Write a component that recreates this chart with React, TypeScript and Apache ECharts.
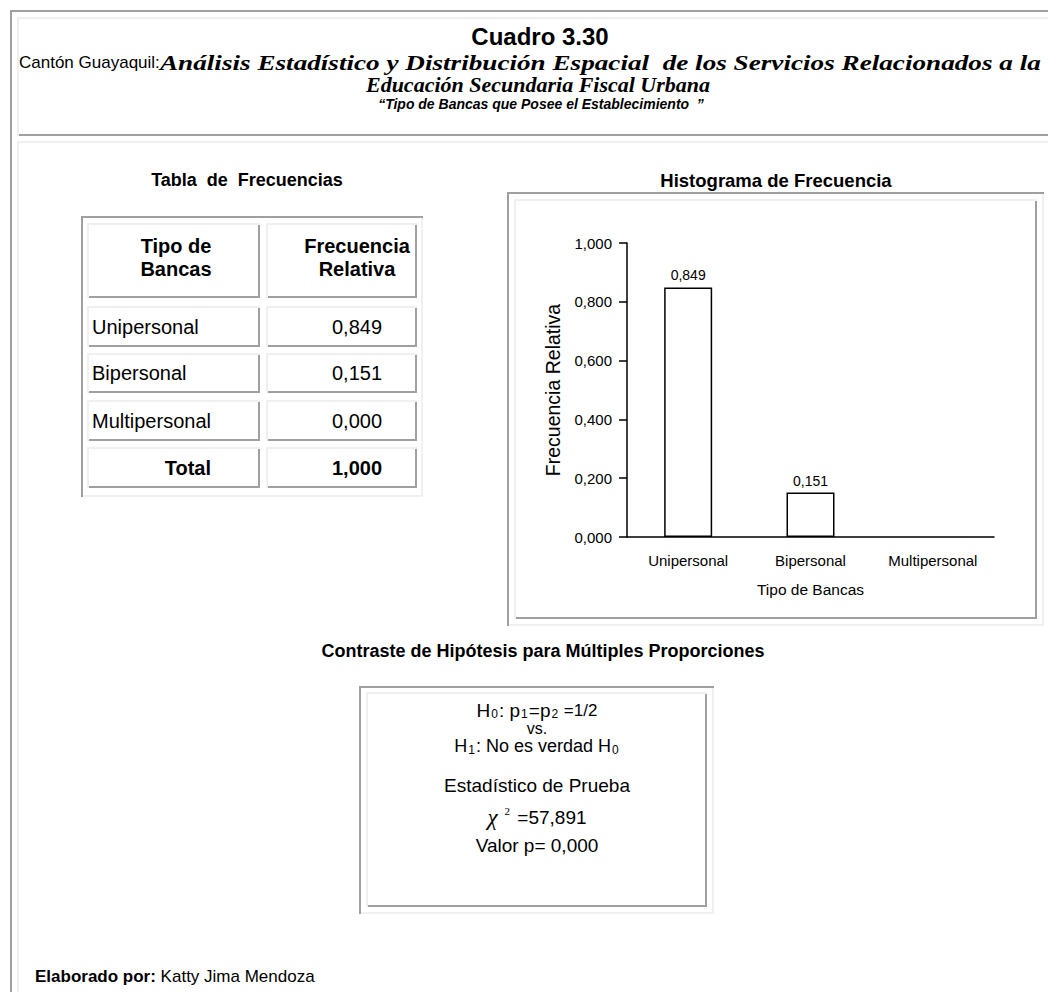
import React, { useEffect, useRef } from 'react';
import * as echarts from 'echarts';

// ---- Data ----
const categories = ['Unipersonal', 'Bipersonal', 'Multipersonal'];
const relativeFrequency = [0.849, 0.151, 0.0];
const totalValue = 1.0;
const yMin = 0;
const yMax = 1;
const yInterval = 0.2;

const titleText = 'Cuadro 3.30';
const subtitlePlain = 'Cantón Guayaquil:';
const subtitleItalic = 'Análisis Estadístico y Distribución Espacial  de los Servicios Relacionados a la';
const subtitleLine2 = 'Educación Secundaria Fiscal Urbana';
const subtitleLine3 = '“Tipo de Bancas que Posee el Establecimiento  ”';
const tableTitle = 'Tabla  de  Frecuencias';
const chartTitle = 'Histograma de Frecuencia';
const tableHeaders = [['Tipo de', 'Bancas'], ['Frecuencia', 'Relativa']];
const totalLabel = 'Total';
const testTitle = 'Contraste de Hipótesis para Múltiples Proporciones';
const statValue = '57,891';
const pValue = '0,000';
const authorLabel = 'Elaborado por:';
const authorName = ' Katty Jima Mendoza';

const fmt = (v: number) => v.toFixed(3).replace('.', ',');

const SANS = '"Liberation Sans", Arial, sans-serif';
const SERIF = '"Liberation Serif", "Times New Roman", serif';
const DARK = '#a0a0a0';
const LIGHT = '#f0f0f0';

const rect = (x: number, y: number, w: number, h: number, fill: string) => ({
  type: 'rect',
  silent: true,
  shape: { x, y, width: w, height: h },
  style: { fill },
});

function bevel(x1: number, y1: number, x2: number, y2: number, kind: 'out' | 'in', w = 2) {
  const tl = kind === 'out' ? DARK : LIGHT;
  const br = kind === 'out' ? LIGHT : DARK;
  return [
    rect(x1, y2 - w, x2 - x1, w, br),
    rect(x2 - w, y1, w, y2 - y1, br),
    rect(x1, y1, x2 - x1, w, tl),
    rect(x1, y1, w, y2 - y1, tl),
  ];
}

const txt = (
  x: number,
  y: number,
  text: string,
  o: {
    size?: number;
    weight?: string;
    align?: string;
    family?: string;
    style?: string;
    rich?: any;
    scaleX?: number;
    lineHeight?: number;
  } = {}
) => ({
  type: 'text',
  silent: true,
  x,
  y,
  scaleX: o.scaleX ?? 1,
  style: {
    text,
    fill: '#000',
    fontSize: o.size ?? 19,
    fontWeight: o.weight ?? 'normal',
    fontStyle: o.style ?? 'normal',
    fontFamily: o.family ?? SANS,
    textAlign: o.align ?? 'center',
    textVerticalAlign: 'middle',
    lineHeight: o.lineHeight,
    rich: o.rich,
  },
});

export default function App() {
  const ref = useRef<HTMLDivElement>(null);

  useEffect(() => {
    if (!ref.current) return;
    const chart = echarts.init(ref.current, null, { renderer: 'svg' });

    const graphics: any[] = [];
    // page frame
    graphics.push(...bevel(10, 10, 1070, 1020, 'out'));
    graphics.push(...bevel(17, 17, 1063, 136, 'in'));
    graphics.push(...bevel(17, 141, 1063, 1013, 'in'));

    // header texts
    graphics.push(txt(540, 36, titleText, { size: 24, weight: 'bold' }));
    graphics.push(txt(19, 62, subtitlePlain, { size: 17, align: 'left' }));
    graphics.push(
      txt(160, 62, subtitleItalic, {
        size: 22,
        family: SERIF,
        weight: 'bold',
        style: 'italic',
        align: 'left',
        scaleX: 1.235,
      })
    );
    graphics.push(txt(538, 84, subtitleLine2, { size: 22, family: SERIF, weight: 'bold', style: 'italic' }));
    graphics.push(txt(541, 104, subtitleLine3, { size: 14, weight: 'bold', style: 'italic' }));

    // section titles
    graphics.push(txt(247, 180, tableTitle, { size: 18, weight: 'bold' }));
    graphics.push(txt(776, 180, chartTitle, { size: 18.5, weight: 'bold' }));
    graphics.push(txt(543, 651, testTitle, { size: 18, weight: 'bold' }));

    // frequency table
    graphics.push(...bevel(81, 216, 423, 497, 'out'));
    const colX = [
      [87, 260],
      [266, 417],
    ];
    const rowsY = [
      [223, 298],
      [306, 347],
      [353, 393],
      [400, 441],
      [447, 488],
    ];
    rowsY.forEach(([y1, y2]) => colX.forEach(([x1, x2]) => graphics.push(...bevel(x1, y1, x2, y2, 'in'))));
    graphics.push(txt(176, 246, tableHeaders[0][0], { size: 20, weight: 'bold' }));
    graphics.push(txt(176, 269, tableHeaders[0][1], { size: 20, weight: 'bold' }));
    graphics.push(txt(357, 246, tableHeaders[1][0], { size: 20, weight: 'bold' }));
    graphics.push(txt(357, 269, tableHeaders[1][1], { size: 20, weight: 'bold' }));
    categories.forEach((c, i) => {
      const [y1, y2] = rowsY[i + 1];
      const cy = (y1 + y2) / 2;
      graphics.push(txt(92, cy, c, { size: 20, align: 'left' }));
      graphics.push(txt(357, cy, fmt(relativeFrequency[i]), { size: 20 }));
    });
    {
      const [y1, y2] = rowsY[4];
      const cy = (y1 + y2) / 2;
      graphics.push(txt(211, cy, totalLabel, { size: 20, weight: 'bold', align: 'right' }));
      graphics.push(txt(357, cy, fmt(totalValue), { size: 20, weight: 'bold' }));
    }

    // chart frame
    graphics.push(...bevel(507, 192, 1044, 626, 'out'));
    graphics.push(...bevel(514, 199, 1037, 619, 'in'));

    // hypothesis box
    graphics.push(...bevel(359, 686, 714, 914, 'out'));
    graphics.push(...bevel(366, 692, 707, 907, 'in'));
    const sub = { fontSize: 12, fontFamily: SANS, fill: '#000', verticalAlign: 'bottom', lineHeight: 6, padding: [0, 1, 0, 1] };
    const base = { fontSize: 19, fontFamily: SANS, fill: '#000', lineHeight: 20 };
    graphics.push(
      txt(537, 710, '{a|H}{s|0}{a|: p}{s|1}{a|=p}{s|2}{b| =1/2}', {
        rich: { a: base, s: sub, b: { ...base, fontSize: 17 } },
      })
    );
    graphics.push(txt(537, 728, 'vs.', { size: 16, lineHeight: 14 }));
    graphics.push(
      txt(537, 746, '{a|H}{s|1}{a|: No es verdad H}{s|0}', {
        rich: { a: { ...base, fontSize: 18 }, s: sub },
      })
    );
    graphics.push(txt(537, 785, 'Estadístico de Prueba', { size: 19 }));
    graphics.push(
      txt(537, 817, `{c|χ}{p|2}{a| =${statValue}}`, {
        rich: {
          a: base,
          c: { fontSize: 23, fontFamily: SERIF, fontStyle: 'italic', fill: '#000', lineHeight: 24 },
          p: { fontSize: 11, fontFamily: SERIF, fill: '#000', verticalAlign: 'top', lineHeight: 10, padding: [0, 2, 0, 7] },
        },
      })
    );
    graphics.push(txt(537, 845, `Valor p= ${pValue}`, { size: 19 }));

    // author
    graphics.push(
      txt(35, 976, `{b|${authorLabel}}{a|${authorName}}`, {
        align: 'left',
        rich: {
          b: { fontSize: 17, fontFamily: SANS, fontWeight: 'bold', fill: '#000' },
          a: { fontSize: 17, fontFamily: SANS, fill: '#000' },
        },
      })
    );

    chart.setOption({
      animation: false,
      backgroundColor: '#fff',
      textStyle: { fontFamily: SANS, color: '#000' },
      graphic: { elements: graphics },
      grid: { left: 627, top: 243, width: 367, height: 294, containLabel: false },
      xAxis: {
        type: 'category',
        data: categories,
        axisLine: { show: true, lineStyle: { color: '#000', width: 1.5 } },
        axisTick: { show: false },
        axisLabel: { color: '#000', fontSize: 15, margin: 16, fontFamily: SANS },
        name: 'Tipo de Bancas',
        nameLocation: 'middle',
        nameGap: 44,
        nameTextStyle: { color: '#000', fontSize: 15.5, fontFamily: SANS },
        splitLine: { show: false },
      },
      yAxis: {
        type: 'value',
        min: yMin,
        max: yMax,
        interval: yInterval,
        axisLine: { show: true, lineStyle: { color: '#000', width: 1.5 } },
        axisTick: { show: true, length: 8, lineStyle: { color: '#000', width: 1.5 } },
        axisLabel: { color: '#000', fontSize: 15, margin: 15, fontFamily: SANS, formatter: (v: number) => fmt(v) },
        splitLine: { show: false },
        name: 'Frecuencia Relativa',
        nameLocation: 'middle',
        nameGap: 64,
        nameTextStyle: { color: '#000', fontSize: 19.5, fontFamily: SANS },
      },
      series: [
        {
          type: 'bar',
          data: relativeFrequency.map((v) => ({
            value: v,
            itemStyle: v > 0 ? undefined : { borderWidth: 0 },
          })),
          barWidth: 48,
          itemStyle: { color: '#fff', borderColor: '#000', borderWidth: 1.5 },
          label: {
            show: true,
            position: 'top',
            distance: 5,
            color: '#000',
            fontSize: 14,
            fontFamily: SANS,
            formatter: (p: any) => (p.value > 0 ? fmt(p.value) : ''),
          },
        },
      ],
    });

    return () => chart.dispose();
  }, []);

  return (
    <div
      ref={ref}
      style={{ position: 'absolute', left: 0, top: 0, width: 1048, height: 992, background: '#fff' }}
    />
  );
}
